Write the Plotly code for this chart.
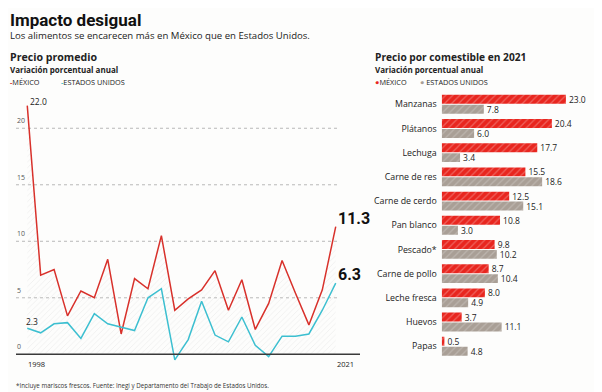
import plotly.graph_objects as go

# ---- Left chart data: annual % change, average price ----
years = list(range(1998, 2022))
mexico = [22.0, 7.0, 7.5, 3.4, 5.6, 5.0, 8.4, 1.8, 6.7, 5.8, 10.5, 3.9,
          4.9, 5.7, 7.4, 3.9, 6.6, 2.2, 4.5, 8.3, 5.4, 2.6, 5.7, 11.3]
usa = [2.3, 1.9, 2.7, 2.8, 1.4, 3.6, 2.7, 2.4, 2.1, 5.0, 5.8, -0.5,
       1.3, 4.7, 1.7, 1.1, 3.3, 0.8, -0.2, 1.6, 1.6, 1.8, 3.9, 6.3]
y_ticks = [0, 5, 10, 15, 20]

# ---- Right chart data: price by food item, 2021 ----
foods = ["Manzanas", "Plátanos", "Lechuga", "Carne de res", "Carne de cerdo",
         "Pan blanco", "Pescado*", "Carne de pollo", "Leche fresca", "Huevos", "Papas"]
food_mx = [23.0, 20.4, 17.7, 15.5, 12.5, 10.8, 9.8, 8.7, 8.0, 3.7, 0.5]
food_us = [7.8, 6.0, 3.4, 18.6, 15.1, 3.0, 10.2, 10.4, 4.9, 11.1, 4.8]

RED = "#d8312b"
CYAN = "#3cbfd0"
BAR_RED = "#e8261f"
BAR_GRAY = "#a99f96"
TXT = "#222222"
SANS = "Open Sans, Noto Sans, sans-serif"
NARROW = "Roboto, sans-serif"

# page body has an 8px margin: figure is 594x384 placed at (8, 8)
OFF = 8
FW, FH = 602 - OFF, 392 - OFF
def px(p):
    return (max(p, OFF + 0.5) - OFF) / FW
def py(p):
    return 1 - (p - OFF) / FH

fig = go.Figure()

fig.add_trace(go.Scatter(
    x=years, y=mexico, mode="lines", line=dict(color=RED, width=1.5),
    fill="tozeroy",
    fillpattern=dict(shape="/", fgcolor="#d6d6d6", bgcolor="rgba(255,255,255,0)",
                     size=4, solidity=0.15),
    xaxis="x", yaxis="y", showlegend=False, hoverinfo="skip"))
fig.add_trace(go.Scatter(
    x=years, y=usa, mode="lines", line=dict(color=CYAN, width=1.5),
    xaxis="x", yaxis="y", showlegend=False, hoverinfo="skip"))

fig.add_trace(go.Bar(
    y=foods, x=food_mx, orientation="h", name="MÉXICO",
    marker=dict(color=BAR_RED, line=dict(width=0),
                pattern=dict(shape="/", fgcolor="rgba(255,255,255,0.55)", bgcolor=BAR_RED,
                             size=5, solidity=0.25)),
    text=[f"{v:.1f}" for v in food_mx], textposition="outside", cliponaxis=False,
    constraintext="none", textfont=dict(size=8.5, color=TXT, family=SANS),
    xaxis="x2", yaxis="y2", showlegend=False, hoverinfo="skip"))
fig.add_trace(go.Bar(
    y=foods, x=food_us, orientation="h", name="ESTADOS UNIDOS",
    marker=dict(color=BAR_GRAY, line=dict(width=0),
                pattern=dict(shape="/", fgcolor="rgba(255,255,255,0.45)", bgcolor=BAR_GRAY,
                             size=5, solidity=0.25)),
    text=[f"{v:.1f}" for v in food_us], textposition="outside", cliponaxis=False,
    constraintext="none", textfont=dict(size=8.5, color=TXT, family=SANS),
    xaxis="x2", yaxis="y2", showlegend=False, hoverinfo="skip"))

shapes = []
for t in y_ticks[1:]:
    shapes.append(dict(type="line", xref="x domain", yref="y", x0=0, x1=0.936, y0=t, y1=t,
                       line=dict(color="#b8b8b8", width=1, dash="dot"), layer="below"))
shapes.append(dict(type="line", xref="x domain", yref="y", x0=0, x1=1, y0=0, y1=0,
                   line=dict(color="#3a3a3a", width=1.6)))

ann = []
def txt(x, y, s, size, color=TXT, bold=False, family=SANS, xanchor="left", yanchor="middle",
        xref="paper", yref="paper"):
    ann.append(dict(x=x, y=y, xref=xref, yref=yref, text=(f"<b>{s}</b>" if bold else s),
                    showarrow=False, xanchor=xanchor, yanchor=yanchor, borderpad=0,
                    font=dict(size=size, color=color, family=family)))

txt(px(4), py(20), "Impacto desigual", 17, color="#111", bold=True, family=NARROW)
txt(px(4), py(35), "Los alimentos se encarecen más en México que en Estados Unidos.", 9.6)
txt(px(4), py(57), "Precio promedio", 10.6, bold=True)
txt(px(4), py(69.5), "Variación porcentual anual", 8, bold=True)
txt(px(4), py(81.5), "<span style='color:%s'><b>-</b></span>MÉXICO" % RED, 7.3)
txt(px(60), py(81.5), "<span style='color:%s'><b>-</b></span>ESTADOS UNIDOS" % CYAN, 7.3)

txt(px(374), py(56.5), "Precio por comestible en 2021", 10.2, bold=True)
txt(px(374), py(69.5), "Variación porcentual anual", 8, bold=True)
txt(px(374), py(81.5), "<span style='color:%s'>●</span>MÉXICO" % BAR_RED, 7.3)
txt(px(419), py(81.5), "<span style='color:%s'>●</span> ESTADOS UNIDOS" % BAR_GRAY, 7.3)

# year labels
txt(years[0], py(364), str(years[0]), 7.5, xref="x", xanchor="left")
txt(years[-1], py(364), str(years[-1]), 7.5, xref="x", xanchor="left")
# y tick labels above gridlines
for t in y_ticks:
    ann.append(dict(x=0, xref="x domain", y=t, yref="y", text=str(t), showarrow=False,
                    xanchor="left", yanchor="bottom", yshift=1, xshift=-1,
                    font=dict(size=7, color="#555", family=SANS)))
# value callouts
ann.append(dict(x=years[0], y=mexico[0], xref="x", yref="y", text=f"{mexico[0]:.1f}",
                showarrow=False, xanchor="left", yanchor="bottom", xshift=1, yshift=-3,
                font=dict(size=8.5, color=TXT, family=SANS)))
ann.append(dict(x=years[0], y=usa[0], xref="x", yref="y", text=f"{usa[0]:.1f}",
                showarrow=False, xanchor="left", yanchor="bottom", xshift=-3, yshift=-1,
                font=dict(size=8.5, color=TXT, family=SANS)))
ann.append(dict(x=years[-1], y=mexico[-1], xref="x", yref="y", text=f"<b>{mexico[-1]:.1f}</b>",
                showarrow=False, xanchor="left", yanchor="bottom", xshift=0, yshift=-3,
                font=dict(size=16, color="#111", family=NARROW)))
ann.append(dict(x=years[-1], y=usa[-1], xref="x", yref="y", text=f"<b>{usa[-1]:.1f}</b>",
                showarrow=False, xanchor="left", yanchor="bottom", xshift=0, yshift=-3,
                font=dict(size=16, color="#111", family=NARROW)))

txt(px(15), py(385.5), "*Incluye mariscos frescos. Fuente: Inegi y Departamento del Trabajo de Estados Unidos.",
    6.2, color="#333")

fig.update_layout(
    width=FW, height=FH, margin=dict(l=0, r=0, t=0, b=0),
    paper_bgcolor="#fdfdfc", plot_bgcolor="rgba(0,0,0,0)",
    font=dict(family=SANS, color=TXT),
    barmode="group", bargap=0.18, bargroupgap=0.1,
    shapes=shapes, annotations=ann,
    xaxis=dict(domain=[px(16), px(360)], range=[1997.16, 2022.81], showgrid=False,
               zeroline=False, showticklabels=False, ticks=""),
    yaxis=dict(domain=[py(365.6), py(100)], range=[-1, 22.5], showgrid=False,
               zeroline=False, showticklabels=False, ticks=""),
    xaxis2=dict(domain=[px(441.7), px(595.6)], range=[0, 28.5], showgrid=False,
                zeroline=False, showticklabels=False, ticks="", anchor="y2"),
    yaxis2=dict(domain=[py(358.3), py(92.2)], autorange="reversed", anchor="x2",
                showgrid=False, zeroline=False, ticks="", ticklabelstandoff=4,
                tickfont=dict(size=8.8, color=TXT, family=SANS)),
)

fig.write_html("out.html")
